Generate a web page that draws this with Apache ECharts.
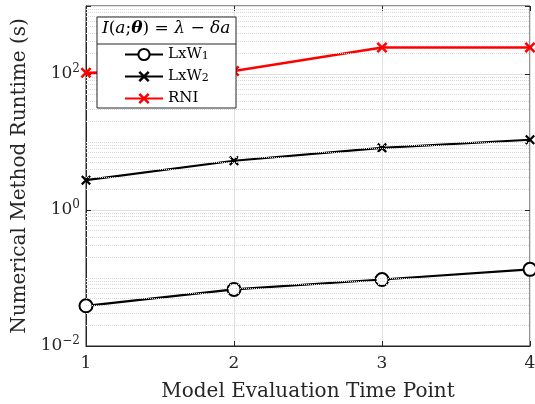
<!DOCTYPE html>
<html>
<head>
<meta charset="utf-8">
<script src="https://cdn.jsdelivr.net/npm/echarts@6/dist/echarts.min.js"></script>
<style>
  html, body { margin: 0; padding: 0; background: #fff; }
  #chart { width: 535px; height: 404px; }
</style>
</head>
<body>
<div id="chart"></div>
<script>
// data
var timePoints = [1, 2, 3, 4];
var lxw1 = [0.039, 0.068, 0.095, 0.134];
var lxw2 = [2.75, 5.3, 8.2, 10.8];
var rni = [104, 111, 245, 245];
var seriesNames = ['LxW1', 'LxW2', 'RNI'];

var yMin = 0.01, yMax = 1000;
var FONT = 'DejaVu Serif';
var AXIS = '#262626';

// minor log grid lines (k * 10^n, skipping the labelled decades)
var minorLines = [];
for (var e = -2; e < 3; e++) {
  for (var k = 1; k <= 9; k++) {
    if (k === 1 && e % 2 === 0) continue;
    minorLines.push({ yAxis: k * Math.pow(10, e) });
  }
}

function pairs(vals) {
  return timePoints.map(function (x, i) { return [x, vals[i]]; });
}

var crossPath = 'path://M0,1.6L1.6,0L5,3.4L8.4,0L10,1.6L6.6,5L10,8.4L8.4,10L5,6.6L1.6,10L0,8.4L3.4,5Z';

var myChart = echarts.init(document.getElementById('chart'));
myChart.setOption({
  animation: false,
  textStyle: { fontFamily: FONT },
  grid: { left: 86, right: 5, top: 6, bottom: 58, outerBoundsMode: 'none', containLabel: false,
    show: true, borderColor: AXIS, borderWidth: 1 },
  xAxis: [{
    type: 'value', min: 1, max: 4, interval: 1,
    name: 'Model Evaluation Time Point', nameLocation: 'middle', nameGap: 36,
    nameTextStyle: { fontFamily: FONT, fontSize: 20, color: AXIS },
    axisLine: { lineStyle: { color: AXIS } },
    axisTick: { inside: true, length: 5, lineStyle: { color: AXIS } },
    axisLabel: { fontFamily: FONT, fontSize: 17, color: AXIS, margin: 9 },
    splitLine: { show: true, lineStyle: { color: '#e0e0e0', width: 1 } }
  }, {
    type: 'value', min: 1, max: 4, interval: 1, position: 'top',
    axisLine: { show: false },
    axisTick: { inside: true, length: 5, lineStyle: { color: AXIS } },
    axisLabel: { show: false }, splitLine: { show: false }
  }],
  yAxis: [{
    type: 'log', logBase: 10, min: yMin, max: yMax, interval: 2,
    name: 'Numerical Method Runtime (s)', nameLocation: 'middle', nameGap: 54,
    nameTextStyle: { fontFamily: FONT, fontSize: 20, color: AXIS },
    axisLine: { lineStyle: { color: AXIS } },
    axisTick: { inside: true, length: 5, lineStyle: { color: AXIS } },
    axisLabel: {
      fontFamily: FONT, fontSize: 17, color: AXIS, margin: 6,
      formatter: function (v) {
        var p = Math.round(Math.log10(v));
        if (p % 2 !== 0) return '';
        return '10{sup|' + (p < 0 ? '\u2212' + (-p) : p) + '}';
      },
      rich: { sup: { fontSize: 12, verticalAlign: 'top', lineHeight: 22, fontFamily: FONT, color: AXIS } }
    },
    splitLine: { show: true, lineStyle: { color: '#e0e0e0', width: 1 } }
  }, {
    type: 'log', logBase: 10, min: yMin, max: yMax, interval: 2, position: 'right',
    axisLine: { show: false },
    axisTick: { inside: true, length: 5, lineStyle: { color: AXIS } },
    axisLabel: { show: false }, splitLine: { show: false }
  }],
  legend: {
    data: seriesNames,
    orient: 'vertical', left: 124, top: 47, z: 20, padding: 0,
    itemWidth: 38, itemHeight: 14, itemGap: 7,
    textStyle: { fontFamily: FONT, fontSize: 15, color: '#000',
      rich: { s: { fontSize: 11, fontFamily: FONT, verticalAlign: 'bottom', lineHeight: 9 },
              m: { fontSize: 15, fontFamily: FONT, lineHeight: 15 } } },
    formatter: function (name) {
      if (name === 'RNI') return '{m|RNI}';
      return '{m|LxW}{s|' + name.slice(3) + '}';
    }
  },
  graphic: [
    { type: 'rect', z: 15, shape: { x: 97, y: 17, width: 139, height: 91 },
      style: { fill: '#fff', stroke: AXIS, lineWidth: 1 } },
    { type: 'line', z: 16, shape: { x1: 97, y1: 44, x2: 236, y2: 44 },
      style: { stroke: AXIS, lineWidth: 1 } },
    { type: 'text', z: 16, left: 102, top: 20,
      style: { text: '{i|I}{n|(}{i|a}{n|;}{b|θ}{n|) = }{i|λ}{n| − }{i|δa}', fill: '#000',
        rich: {
          i: { fontFamily: FONT, fontStyle: 'italic', fontSize: 17 },
          b: { fontFamily: FONT, fontStyle: 'italic', fontWeight: 'bold', fontSize: 17 },
          n: { fontFamily: FONT, fontSize: 17 }
        } } }
  ],
  series: [{
    name: 'grid', type: 'line', data: [], z: 1, silent: true,
    markLine: {
      silent: true, symbol: 'none', label: { show: false },
      lineStyle: { type: 'dotted', color: '#d8d8d8', width: 1 },
      data: minorLines, animation: false
    }
  }, {
    name: 'LxW1', type: 'line', data: pairs(lxw1),
    symbol: 'emptyCircle', symbolSize: 13,
    lineStyle: { color: '#000', width: 2.2 },
    itemStyle: { color: '#000', borderColor: '#000', borderWidth: 2.2 }
  }, {
    name: 'LxW2', type: 'line', data: pairs(lxw2),
    symbol: crossPath, symbolSize: 10,
    lineStyle: { color: '#000', width: 2.2 },
    itemStyle: { color: '#000' }
  }, {
    name: 'RNI', type: 'line', data: pairs(rni),
    symbol: crossPath, symbolSize: 11,
    lineStyle: { color: '#ff0000', width: 2.6 },
    itemStyle: { color: '#ff0000' }
  }]
});
</script>
</body>
</html>
